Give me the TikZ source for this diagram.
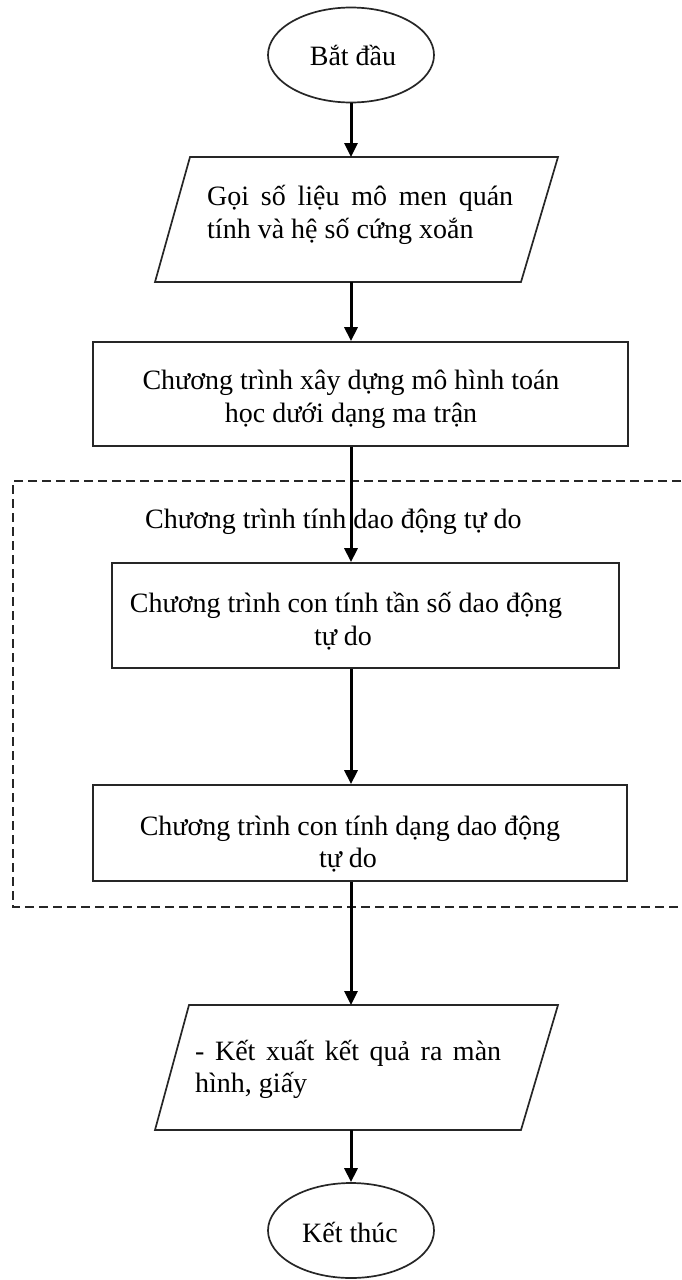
\documentclass[tikz,border=0pt]{standalone}
\usepackage{fontspec}
\setmainfont{Liberation Serif}
\usetikzlibrary{shapes.geometric,arrows.meta}
\begin{document}
\begin{tikzpicture}[x=1pt,y=-1pt,
  font=\fontsize{28}{33}\selectfont,
  outline/.style={draw=black!85, line width=1.7pt},
  terminal/.style={outline, ellipse, minimum width=166pt, minimum height=95pt, inner sep=0pt},
  procbox/.style={outline, rectangle, inner sep=0pt},
  flow/.style={line width=3pt, draw=black, -{Triangle[length=14pt,width=13pt]}},
  frame/.style={draw=black!85, line width=1.5pt, dash pattern=on 9pt off 5pt},
  txt/.style={inner sep=0pt, anchor=base},
  txtl/.style={inner sep=0pt, anchor=base west}]
\useasboundingbox (0,0) rectangle (681,1280);

% start / end terminals
\node[terminal] (start) at (351,55) {};
\node[txt] (starttxt) at (353,65) {Bắt đầu};
\node[terminal] (stop) at (351,1230.5) {};
\node[txt] (stoptxt) at (350,1242) {Kết thúc};

% input parallelogram
\draw[outline] (190,157) -- (558,157) -- (521,282) -- (155,282) -- cycle;
\coordinate (in1t) at (351,157);
\coordinate (in1b) at (351,282);
\node[txtl] (in1a) at (207,205) {\makebox[306pt][s]{Gọi số liệu mô men quán}};
\node[txtl] (in1b-txt) at (207,238) {tính và hệ số cứng xoắn};

% model-building program
\node[procbox, minimum width=535pt, minimum height=104pt] (model) at (360.5,394) {};
\node[txt] (modela) at (351,389) {Chương trình xây dựng mô hình toán};
\node[txt] (modelb) at (351,422) {học dưới dạng ma trận};

% free-vibration group
\draw[frame] (681,481) -- (13,481) -- (13,907) -- (681,907);
\node[txtl] (grouplbl) at (145,528) {Chương trình tính dao động tự do};

\node[procbox, minimum width=507pt, minimum height=105pt] (freq) at (365.5,615.5) {};
\node[txt] (freqa) at (346,612) {Chương trình con tính tần số dao động};
\node[txt] (freqb) at (343,645) {tự do};

\node[procbox, minimum width=534pt, minimum height=96pt] (mode) at (360,833) {};
\node[txt] (modea) at (350,835) {Chương trình con tính dạng dao động};
\node[txt] (modeb) at (348,867) {tự do};

% output parallelogram
\draw[outline] (189,1005) -- (558,1005) -- (521,1130) -- (155,1130) -- cycle;
\coordinate (out1t) at (351,1005);
\coordinate (out1b) at (351,1130);
\node[txtl] (outa) at (195,1060) {\makebox[306pt][s]{- Kết xuất kết quả ra màn}};
\node[txtl] (outb) at (195,1092) {hình, giấy};

% connectors
\draw[flow] (start.south) -- (in1t);
\draw[flow] (in1b) -- (in1b |- model.north);
\draw[flow] (in1b |- model.south) -- (in1b |- freq.north);
\draw[flow] (in1b |- freq.south) -- (in1b |- mode.north);
\draw[flow] (in1b |- mode.south) -- (out1t);
\draw[flow] (out1b) -- (stop.north);
\end{tikzpicture}
\end{document}
